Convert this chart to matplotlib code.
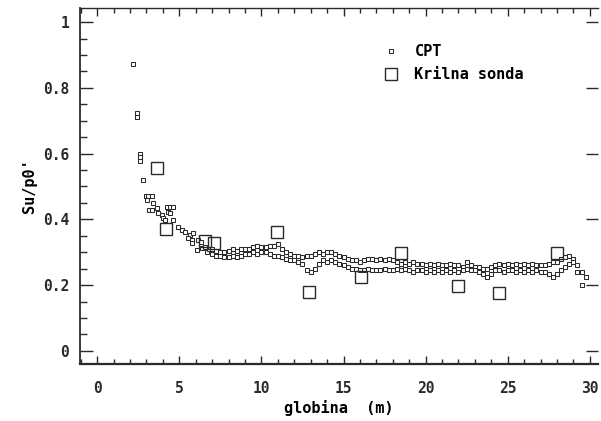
import matplotlib
matplotlib.use("Agg")
import matplotlib.pyplot as plt
from matplotlib.ticker import MultipleLocator

# CPT, first metres (scattered readings)
cpt_top_depth = [2.17, 2.4, 2.4, 2.6, 2.6, 2.6, 2.78, 2.96, 3.08, 3.02, 3.32, 3.38,
                 3.14, 3.32, 3.63, 3.69, 4.24, 4.42, 4.6, 4.3, 4.42, 3.93, 3.99, 4.12,
                 4.6, 4.9, 5.15, 5.34, 5.64, 5.52, 5.76, 5.82, 5.76, 6.13, 6.07, 6.37,
                 6.55, 6.68, 6.98, 6.3, 6.8]
cpt_top_su = [0.872, 0.723, 0.711, 0.60, 0.59, 0.578, 0.52, 0.471, 0.471, 0.459, 0.471, 0.45,
              0.429, 0.429, 0.435, 0.419, 0.438, 0.438, 0.438, 0.422, 0.419, 0.413, 0.404, 0.398,
              0.398, 0.377, 0.368, 0.362, 0.353, 0.343, 0.337, 0.359, 0.328, 0.337, 0.307, 0.313,
              0.316, 0.301, 0.298, 0.33, 0.31]

# CPT, two soundings below 7 m
cpt_depth = [7.0, 7.25, 7.5, 7.75, 8.0, 8.25, 8.5, 8.75, 9.0,
             9.25, 9.5, 9.75, 10.0, 10.25, 10.5, 10.75, 11.0,
             11.25, 11.5, 11.75, 12.0, 12.25, 12.5, 12.75, 13.0,
             13.25, 13.5, 13.75, 14.0, 14.25, 14.5, 14.75, 15.0,
             15.25, 15.5, 15.75, 16.0, 16.25, 16.5, 16.75, 17.0,
             17.25, 17.5, 17.75, 18.0, 18.25, 18.5, 18.75, 19.0,
             19.25, 19.5, 19.75, 20.0, 20.25, 20.5, 20.75, 21.0,
             21.25, 21.5, 21.75, 22.0, 22.25, 22.5, 22.75, 23.0,
             23.25, 23.5, 23.75, 24.0, 24.25, 24.5, 24.75, 25.0,
             25.25, 25.5, 25.75, 26.0, 26.25, 26.5, 26.75, 27.0,
             27.25, 27.5, 27.75, 28.0, 28.25, 28.5, 28.75, 29.0,
             29.25, 29.5, 29.75]
cpt_su_a = [0.31, 0.305, 0.30, 0.30, 0.305, 0.31, 0.305, 0.31, 0.31,
            0.31, 0.315, 0.32, 0.315, 0.315, 0.32, 0.32, 0.325,
            0.31, 0.30, 0.295, 0.29, 0.29, 0.285, 0.29, 0.29,
            0.295, 0.30, 0.295, 0.30, 0.30, 0.295, 0.29, 0.285,
            0.28, 0.275, 0.275, 0.27, 0.275, 0.28, 0.28, 0.275,
            0.28, 0.275, 0.28, 0.275, 0.27, 0.265, 0.27, 0.265,
            0.27, 0.265, 0.265, 0.26, 0.265, 0.26, 0.265, 0.26,
            0.26, 0.265, 0.26, 0.26, 0.255, 0.27, 0.26, 0.255,
            0.255, 0.25, 0.25, 0.255, 0.26, 0.265, 0.26, 0.265,
            0.26, 0.265, 0.26, 0.265, 0.26, 0.265, 0.26, 0.26,
            0.26, 0.265, 0.27, 0.27, 0.28, 0.285, 0.29, 0.28,
            0.26, 0.24, 0.225]
cpt_su_b = [0.295, 0.29, 0.29, 0.285, 0.285, 0.29, 0.285, 0.29, 0.295,
            0.295, 0.30, 0.295, 0.30, 0.30, 0.295, 0.29, 0.29,
            0.285, 0.28, 0.275, 0.275, 0.27, 0.265, 0.245, 0.24,
            0.25, 0.265, 0.275, 0.27, 0.275, 0.27, 0.265, 0.26,
            0.255, 0.25, 0.25, 0.245, 0.245, 0.25, 0.245, 0.245,
            0.245, 0.25, 0.245, 0.245, 0.25, 0.245, 0.25, 0.245,
            0.24, 0.245, 0.245, 0.24, 0.245, 0.24, 0.245, 0.24,
            0.245, 0.24, 0.245, 0.24, 0.245, 0.25, 0.245, 0.245,
            0.24, 0.235, 0.225, 0.235, 0.245, 0.245, 0.24, 0.245,
            0.245, 0.24, 0.245, 0.24, 0.245, 0.24, 0.245, 0.24,
            0.24, 0.235, 0.225, 0.235, 0.245, 0.255, 0.265, 0.27,
            0.24, 0.20, 0.225]

# vane test (krilna sonda)
vane_depth = [3.63, 4.18, 6.55, 7.1, 10.94, 12.9, 16.07, 18.5, 22.0, 24.5, 28.0]
vane_su = [0.556, 0.371, 0.335, 0.328, 0.362, 0.18, 0.226, 0.298, 0.198, 0.176, 0.298]

font = ["DejaVu Sans Mono"]
plt.rcParams["font.family"] = font
plt.rcParams["font.weight"] = "bold"

fig = plt.figure(figsize=(6.01, 4.21), dpi=100)
ax = fig.add_axes([80 / 601, 1 - 364 / 421, 518 / 601, 356 / 421])

ink = "#2a2a2a"
small = dict(marker="s", ms=3.0, mfc="white", mec=ink, mew=0.75, ls="none")
ax.plot(cpt_top_depth, cpt_top_su, label="CPT", **small)
ax.plot(cpt_depth, cpt_su_a, **small)
ax.plot(cpt_depth, cpt_su_b, **small)
ax.plot(vane_depth, vane_su, marker="s", ms=8.5, mfc="none", mec=ink, mew=1.0,
        ls="none", label="Krilna sonda")

ax.set_xlim(-1.05, 30.5)
ax.set_ylim(-0.04, 1.043)
ax.xaxis.set_major_locator(MultipleLocator(5))
ax.xaxis.set_minor_locator(MultipleLocator(1))
ax.yaxis.set_major_locator(MultipleLocator(0.2))
ax.yaxis.set_minor_locator(MultipleLocator(0.05))
ax.set_xticks([0, 5, 10, 15, 20, 25, 30])
ax.set_xticklabels(["0", "5", "10", "15", "20", "25", "30"])
ax.set_yticks([0, 0.2, 0.4, 0.6, 0.8, 1.0])
ax.set_yticklabels(["0", "0.2", "0.4", "0.6", "0.8", "1"])

ax.tick_params(axis="both", which="both", direction="in", colors=ink,
               labelsize=10.5, width=1.0)
ax.tick_params(axis="x", which="major", length=6, pad=12, top=True)
ax.tick_params(axis="x", which="minor", length=3.5, top=True)
ax.tick_params(axis="y", which="major", length=9, pad=8, right=True)
ax.tick_params(axis="y", which="minor", length=5)

ax.spines["right"].set_visible(False)
ax.spines["left"].set_linewidth(1.3)
ax.spines["bottom"].set_linewidth(1.6)
ax.spines["top"].set_linewidth(1.0)
for s in ax.spines.values():
    s.set_color(ink)

ax.set_xlabel("globina  (m)", fontsize=11, labelpad=3, fontweight="bold")
ax.set_ylabel("Su/p0'", fontsize=11, labelpad=4, fontweight="bold")

ax.legend(loc="upper left", bbox_to_anchor=(0.56, 0.915), frameon=False,
          fontsize=11, handletextpad=0.5, labelspacing=0.5, borderaxespad=0)

fig.savefig("out.png", dpi=100)
